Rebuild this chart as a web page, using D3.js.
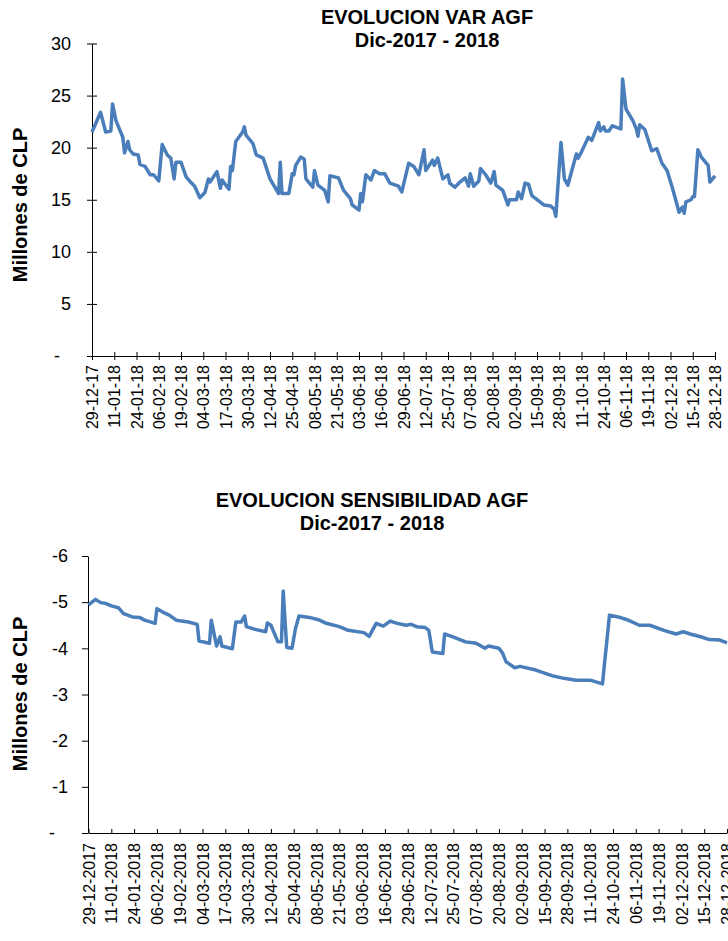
<!DOCTYPE html>
<html>
<head>
<meta charset="utf-8">
<script src="https://cdn.jsdelivr.net/npm/d3@7"></script>
<style>
body { margin: 0; background: #fff; }
svg { display: block; font-family: Arial, "Liberation Sans", sans-serif; }
</style>
</head>
<body>
<div id="chart"></div>
<script>
// tick dates (every 13 days), shared by both charts
var tickDates = ["2017-12-29","2018-01-11","2018-01-24","2018-02-06","2018-02-19","2018-03-04","2018-03-17",
	"2018-03-30","2018-04-12","2018-04-25","2018-05-08","2018-05-21","2018-06-03","2018-06-16","2018-06-29",
	"2018-07-12","2018-07-25","2018-08-07","2018-08-20","2018-09-02","2018-09-15","2018-09-28","2018-10-11",
	"2018-10-24","2018-11-06","2018-11-19","2018-12-02","2018-12-15","2018-12-28"];

// VaR series (millones de CLP)
var varDates = ["2017-12-29","2018-01-03","2018-01-06","2018-01-09","2018-01-10","2018-01-12","2018-01-16","2018-01-17","2018-01-19","2018-01-20",
	"2018-01-22","2018-01-25","2018-01-26","2018-01-29","2018-02-01","2018-02-03","2018-02-06","2018-02-08","2018-02-11","2018-02-13",
	"2018-02-15","2018-02-16","2018-02-19","2018-02-22","2018-02-24","2018-02-27","2018-03-02","2018-03-05","2018-03-07","2018-03-08",
	"2018-03-12","2018-03-14","2018-03-15","2018-03-19","2018-03-20","2018-03-21","2018-03-23","2018-03-27","2018-03-28","2018-03-29",
	"2018-04-02","2018-04-04","2018-04-08","2018-04-12","2018-04-17","2018-04-18","2018-04-19","2018-04-23","2018-04-25","2018-04-26",
	"2018-04-27","2018-04-30","2018-05-02","2018-05-03","2018-05-07","2018-05-08","2018-05-10","2018-05-14","2018-05-16","2018-05-17",
	"2018-05-22","2018-05-25","2018-05-29","2018-05-30","2018-06-03","2018-06-04","2018-06-05","2018-06-07","2018-06-10","2018-06-12",
	"2018-06-15","2018-06-18","2018-06-21","2018-06-26","2018-06-28","2018-07-02","2018-07-05","2018-07-08","2018-07-11","2018-07-12",
	"2018-07-16","2018-07-17","2018-07-19","2018-07-22","2018-07-25","2018-07-26","2018-07-29","2018-08-01","2018-08-04","2018-08-06",
	"2018-08-07","2018-08-09","2018-08-12","2018-08-13","2018-08-16","2018-08-19","2018-08-21","2018-08-22","2018-08-26","2018-08-29",
	"2018-08-30","2018-09-03","2018-09-04","2018-09-06","2018-09-08","2018-09-10","2018-09-12","2018-09-19","2018-09-23","2018-09-25",
	"2018-09-26","2018-09-29","2018-10-01","2018-10-03","2018-10-06","2018-10-08","2018-10-09","2018-10-11","2018-10-15","2018-10-17",
	"2018-10-21","2018-10-22","2018-10-24","2018-10-25","2018-10-27","2018-10-29","2018-11-03","2018-11-04","2018-11-06","2018-11-10",
	"2018-11-12","2018-11-13","2018-11-14","2018-11-17","2018-11-21","2018-11-24","2018-11-27","2018-11-30","2018-12-03","2018-12-07",
	"2018-12-09","2018-12-10","2018-12-11","2018-12-14","2018-12-15","2018-12-16","2018-12-18","2018-12-20","2018-12-24","2018-12-25",
	"2018-12-28"];
var varValues = [21.5,23.4,21.5,21.6,24.2,22.6,21.0,19.5,20.6,19.8,
	19.4,19.3,18.4,18.2,17.4,17.4,16.8,20.3,19.3,19.0,
	17.0,18.6,18.6,17.2,16.8,16.3,15.2,15.7,17.0,16.7,
	17.7,16.1,16.9,16.0,18.2,17.8,20.6,21.5,22.0,21.2,
	20.4,19.3,19.0,17.0,15.6,18.6,15.6,15.6,17.5,17.4,
	18.3,19.1,18.9,17.0,16.2,17.8,16.4,15.9,14.8,17.3,
	17.1,15.9,15.1,14.5,14.0,15.6,14.8,17.4,16.9,17.8,
	17.5,17.5,16.6,16.3,15.75,18.5,18.2,17.4,19.8,17.8,
	18.8,18.3,19.0,17.0,17.4,16.6,16.2,16.7,17.1,16.3,
	17.5,16.3,16.8,18.0,17.4,16.6,17.7,16.4,15.9,14.5,
	15.0,15.0,15.75,15.1,16.6,16.5,15.4,14.5,14.4,14.1,
	13.4,20.5,17.0,16.4,18.2,19.4,19.0,19.6,21.0,20.7,
	22.4,21.6,22.0,21.6,21.6,22.1,21.8,26.6,23.7,22.6,
	21.8,21.1,22.2,21.75,19.7,19.9,18.5,17.8,16.2,13.8,
	14.3,13.7,14.8,15.0,15.3,15.3,19.8,19.1,18.3,16.7,
	17.3];

// sensibilidad series (millones de CLP)
var sensDates = ["2017-12-29","2018-01-02","2018-01-05","2018-01-08","2018-01-11","2018-01-15","2018-01-18","2018-01-23","2018-01-27","2018-01-30",
	"2018-02-05","2018-02-06","2018-02-09","2018-02-13","2018-02-17","2018-02-24","2018-03-01","2018-03-02","2018-03-08","2018-03-09",
	"2018-03-12","2018-03-14","2018-03-15","2018-03-21","2018-03-23","2018-03-26","2018-03-28","2018-03-29","2018-04-03","2018-04-09",
	"2018-04-10","2018-04-12","2018-04-16","2018-04-18","2018-04-19","2018-04-21","2018-04-24","2018-04-26","2018-04-28","2018-05-04",
	"2018-05-09","2018-05-13","2018-05-21","2018-05-26","2018-06-04","2018-06-07","2018-06-11","2018-06-15","2018-06-19","2018-06-23",
	"2018-06-28","2018-07-01","2018-07-04","2018-07-09","2018-07-11","2018-07-13","2018-07-19","2018-07-20","2018-07-24","2018-08-01",
	"2018-08-07","2018-08-12","2018-08-14","2018-08-20","2018-08-22","2018-08-24","2018-08-29","2018-09-01","2018-09-10","2018-09-20",
	"2018-09-26","2018-10-03","2018-10-11","2018-10-18","2018-10-22","2018-10-27","2018-11-01","2018-11-08","2018-11-14","2018-11-22",
	"2018-11-29","2018-12-03","2018-12-07","2018-12-13","2018-12-18","2018-12-24","2018-12-28"];
var sensValues = [-4.94,-5.06,-4.99,-4.97,-4.92,-4.88,-4.75,-4.68,-4.67,-4.61,
	-4.54,-4.86,-4.79,-4.72,-4.61,-4.57,-4.52,-4.16,-4.11,-4.61,
	-4.05,-4.25,-4.05,-3.99,-4.57,-4.57,-4.70,-4.47,-4.41,-4.36,
	-4.55,-4.50,-4.14,-4.14,-5.24,-4.02,-4.00,-4.43,-4.70,-4.67,
	-4.62,-4.55,-4.47,-4.39,-4.34,-4.26,-4.54,-4.48,-4.59,-4.54,
	-4.50,-4.52,-4.47,-4.45,-4.39,-3.92,-3.89,-4.31,-4.26,-4.14,
	-4.11,-4.00,-4.05,-4.00,-3.90,-3.71,-3.58,-3.61,-3.53,-3.40,
	-3.35,-3.31,-3.31,-3.23,-4.72,-4.68,-4.62,-4.50,-4.50,-4.39,
	-4.31,-4.36,-4.31,-4.25,-4.19,-4.18,-4.12];

var varTicks = [0, 5, 10, 15, 20, 25, 30];
var sensTicks = [0, -1, -2, -3, -4, -5, -6];

var parseDate = d3.timeParse("%Y-%m-%d");
var lineColor = "#4a7ebb";

var svg = d3.select("#chart")
	.append("svg")
		.attr("width", 728)
		.attr("height", 941);

// ---------- top chart: VaR ----------
var x1 = d3.scaleTime()
	.domain([parseDate(tickDates[0]), parseDate(tickDates[tickDates.length - 1])])
	.range([92, 715]);
var y1 = d3.scaleLinear()
	.domain([0, 30])
	.range([356, 43.5]);

svg.append("text")
	.attr("x", 427).attr("y", 24)
	.attr("text-anchor", "middle")
	.style("font-size", "20px").style("font-weight", "bold")
	.text("EVOLUCION VAR AGF");
svg.append("text")
	.attr("x", 427).attr("y", 47)
	.attr("text-anchor", "middle")
	.style("font-size", "20px").style("font-weight", "bold")
	.text("Dic-2017 - 2018");

svg.append("text")
	.attr("transform", "translate(27,205) rotate(-90)")
	.attr("text-anchor", "middle")
	.style("font-size", "20px").style("font-weight", "bold")
	.text("Millones de CLP");

// y axis, ticks cross the line
var gy1 = svg.append("g")
	.attr("transform", "translate(92,0)")
	.call(d3.axisLeft(y1).tickValues(varTicks).tickSize(5).tickSizeOuter(0).tickPadding(16)
		.tickFormat(function(d) { return d === 0 ? "-" : String(d); }));
gy1.selectAll(".tick line").attr("x1", 5);
gy1.selectAll(".tick text").style("font-size", "18px")
	.attr("x", function(d) { return d === 0 ? -32 : -21; });

// x axis
var gx1 = svg.append("g")
	.attr("transform", "translate(0,356)")
	.call(d3.axisBottom(x1).tickValues(tickDates.map(parseDate)).tickSize(4).tickSizeOuter(0)
		.tickFormat(d3.timeFormat("%d-%m-%y")));
gx1.selectAll(".tick line").attr("y1", -4);
gx1.selectAll(".tick text")
	.style("font-size", "16px")
	.attr("transform", "rotate(-90)")
	.attr("text-anchor", "end")
	.attr("x", -9)
	.attr("y", 0)
	.attr("dy", "0.35em");

var line1 = d3.line()
	.x(function(d) { return x1(d[0]); })
	.y(function(d) { return y1(d[1]); });

svg.append("path")
	.datum(d3.zip(varDates.map(parseDate), varValues))
	.attr("fill", "none")
	.attr("stroke", lineColor)
	.attr("stroke-width", 3.5)
	.attr("stroke-linejoin", "round")
	.attr("d", line1);

// ---------- bottom chart: sensibilidad ----------
var x2 = d3.scaleTime()
	.domain([parseDate(tickDates[0]), parseDate(tickDates[tickDates.length - 1])])
	.range([88.5, 727]);
var y2 = d3.scaleLinear()
	.domain([0, -6])
	.range([833, 556]);

svg.append("text")
	.attr("x", 372).attr("y", 507)
	.attr("text-anchor", "middle")
	.style("font-size", "20px").style("font-weight", "bold")
	.text("EVOLUCION SENSIBILIDAD AGF");
svg.append("text")
	.attr("x", 372).attr("y", 530)
	.attr("text-anchor", "middle")
	.style("font-size", "20px").style("font-weight", "bold")
	.text("Dic-2017 - 2018");

svg.append("text")
	.attr("transform", "translate(27,694) rotate(-90)")
	.attr("text-anchor", "middle")
	.style("font-size", "20px").style("font-weight", "bold")
	.text("Millones de CLP");

var gy2 = svg.append("g")
	.attr("transform", "translate(88,0)")
	.call(d3.axisLeft(y2).tickValues(sensTicks).tickSize(6).tickSizeOuter(0).tickPadding(14)
		.tickFormat(function(d) { return d === 0 ? "-" : String(d); }));
gy2.selectAll(".tick text").style("font-size", "18px")
	.attr("x", function(d) { return d === 0 ? -33 : -20; });

// x axis, ticks point inward
var gx2 = svg.append("g")
	.attr("transform", "translate(0,833)")
	.call(d3.axisBottom(x2).tickValues(tickDates.map(parseDate)).tickSize(0).tickSizeOuter(0)
		.tickFormat(d3.timeFormat("%d-%m-%Y")));
gx2.selectAll(".tick line").attr("y2", -4);
gx2.selectAll(".tick text")
	.style("font-size", "16px")
	.attr("transform", "rotate(-90)")
	.attr("text-anchor", "end")
	.attr("x", -10)
	.attr("y", 0)
	.attr("dy", "0.35em");

var line2 = d3.line()
	.x(function(d) { return x2(d[0]); })
	.y(function(d) { return y2(d[1]); });

svg.append("path")
	.datum(d3.zip(sensDates.map(parseDate), sensValues))
	.attr("fill", "none")
	.attr("stroke", lineColor)
	.attr("stroke-width", 3.5)
	.attr("stroke-linejoin", "round")
	.attr("d", line2);

svg.selectAll(".domain, .tick line").attr("stroke", "#000");
</script>
</body>
</html>
